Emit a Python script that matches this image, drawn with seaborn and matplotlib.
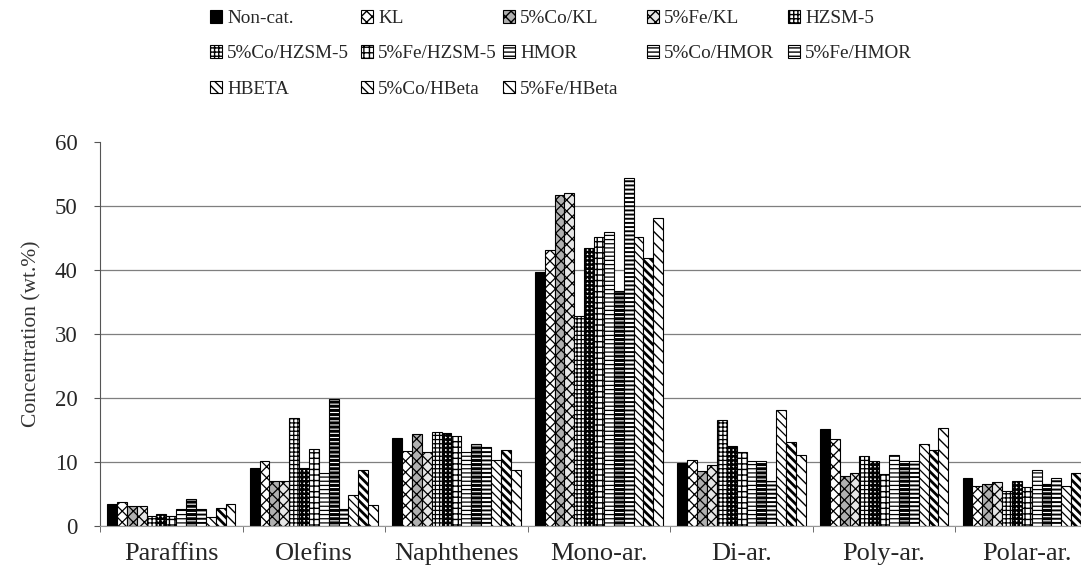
import numpy as np
import pandas as pd
import matplotlib
matplotlib.use('Agg')
import matplotlib.pyplot as plt
import matplotlib.patches as mpatches
import seaborn as sns

# categories and catalysts
fractions = ['Paraffins', 'Olefins', 'Naphthenes', 'Mono-ar.', 'Di-ar.', 'Poly-ar.', 'Polar-ar.']
catalysts = ['Non-cat.', 'KL', '5%Co/KL', '5%Fe/KL', 'HZSM-5', '5%Co/HZSM-5', '5%Fe/HZSM-5',
             'HMOR', '5%Co/HMOR', '5%Fe/HMOR', 'HBETA', '5%Co/HBeta', '5%Fe/HBeta']

# concentration (wt.%) per catalyst, one value per fraction
non_cat = [3.4, 9.0, 13.8, 39.7, 9.8, 15.1, 7.5]
kl = [3.7, 10.1, 11.7, 43.2, 10.3, 13.6, 6.3]
co_kl = [3.1, 7.0, 14.4, 51.7, 8.6, 7.8, 6.6]
fe_kl = [3.1, 7.1, 11.5, 52.0, 9.6, 8.3, 6.8]
hzsm5 = [1.6, 16.8, 14.7, 32.8, 16.5, 10.9, 5.4]
co_hzsm5 = [1.8, 9.1, 14.6, 43.4, 12.5, 10.1, 7.0]
fe_hzsm5 = [1.5, 12.0, 14.1, 45.2, 11.6, 8.2, 6.1]
hmor = [2.7, 8.3, 11.6, 46.0, 10.1, 11.1, 8.8]
co_hmor = [4.2, 19.8, 12.8, 36.7, 10.1, 10.2, 6.6]
fe_hmor = [2.7, 2.7, 12.3, 54.4, 7.1, 10.2, 7.5]
hbeta = [1.4, 4.8, 10.3, 45.1, 18.2, 12.8, 6.3]
co_hbeta = [2.8, 8.8, 11.9, 41.9, 13.1, 11.9, 8.3]
fe_hbeta = [3.4, 3.3, 8.8, 48.1, 11.1, 15.3, 8.5]

series = [non_cat, kl, co_kl, fe_kl, hzsm5, co_hzsm5, fe_hzsm5,
          hmor, co_hmor, fe_hmor, hbeta, co_hbeta, fe_hbeta]

# style per catalyst: fill, hatch, hatch line width
fills = ['black', 'white', '#b0b0b0', '#e6e6e6', 'white', 'white', 'white',
         'white', 'white', 'white', 'white', 'white', 'white']
hatches = [None, 'xxx', 'xxx', 'xxx', '++++', '++++', '+++',
           '----', '----', '----', '\\\\\\\\', '\\\\\\\\', '\\\\\\']
hatch_lw = [1, 0.9, 0.9, 0.9, 0.9, 1.8, 1.0, 0.9, 2.2, 1.4, 0.9, 2.0, 1.0]

rows = []
for cat, vals in zip(catalysts, series):
    for frac, v in zip(fractions, vals):
        rows.append({'Fraction': frac, 'Catalyst': cat, 'Conc': v})
df = pd.DataFrame(rows)

sns.set_style('white')
plt.rcParams['font.family'] = ['Liberation Serif', 'DejaVu Serif']
plt.rcParams['hatch.color'] = 'black'
plt.rcParams['hatch.linewidth'] = 1.0

fig = plt.figure(figsize=(10.81, 5.69), dpi=100)
ax = fig.add_axes([100 / 1081, 43 / 569, 998 / 1081, 384 / 569])

sns.barplot(data=df, x='Fraction', y='Conc', hue='Catalyst', order=fractions,
            hue_order=catalysts, palette=fills, edgecolor='black', linewidth=0.8,
            width=0.9, saturation=1, ax=ax, legend=False)

for i, cont in enumerate(ax.containers):
    for bar in cont:
        if hatches[i]:
            bar.set_hatch(hatches[i])
        if hasattr(bar, 'set_hatch_linewidth'):
            bar.set_hatch_linewidth(hatch_lw[i])

ax.set_xlim(-0.5, 6.5)
ax.set_ylim(0, 60)
ax.set_yticks(range(0, 61, 10))
ax.yaxis.grid(True, color='#7f7f7f', linewidth=0.9)
ax.get_ygridlines()[-1].set_visible(False)
ax.xaxis.grid(False)
ax.set_axisbelow(True)
for s in ['top', 'right']:
    ax.spines[s].set_visible(False)
ax.spines['left'].set_color('#555555')
ax.spines['bottom'].set_color('#999999')

ax.set_xticks(np.arange(-0.5, 7, 1), minor=True)
ax.tick_params(axis='x', which='major', length=0, pad=12, labelsize=19)
ax.tick_params(axis='x', which='minor', length=4, color='#555555', direction='out', bottom=True)
ax.tick_params(axis='y', length=4, color='#555555', direction='out', left=True, pad=12,
               labelsize=16.5)
ax.set_xlabel('')
ax.set_ylabel('Concentration (wt.%)', fontsize=15.5, color='#333333', labelpad=10)

# legend in five columns, row-major as in the original
handles = []
for i, cat in enumerate(catalysts):
    p = mpatches.Patch(facecolor=fills[i], edgecolor='black', hatch=hatches[i],
                       linewidth=0.8, label=cat)
    handles.append(p)
col_x = [210, 361, 503, 647, 788]
for c in range(5):
    items = handles[c::5]
    fig.legend(handles=items, labels=[h.get_label() for h in items], loc='upper left',
               bbox_to_anchor=(col_x[c] / 1081, 1 - 10 / 569), frameon=False,
               borderpad=0, borderaxespad=0, handlelength=0.65, handleheight=0.65,
               handletextpad=0.25, labelspacing=0.95, fontsize=13.8)

fig.savefig('out.png', dpi=100)
